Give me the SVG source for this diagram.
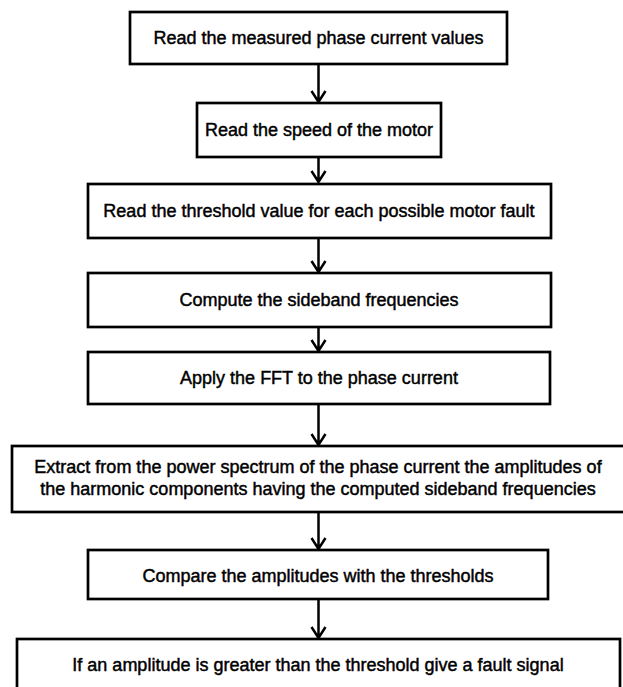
<svg xmlns="http://www.w3.org/2000/svg" width="623" height="687" viewBox="0 0 623 687">
<style>
.box{fill:#fff;stroke:#000;stroke-width:2.7}
.t{font-family:"Liberation Sans",Arial,sans-serif;font-size:18px;fill:#000;stroke:#000;stroke-width:0.45;text-anchor:middle}
.c{stroke:#000;stroke-width:2.5;fill:none}
</style>
<rect width="623" height="687" fill="#fff"/>
<g id="connectors" class="c">
<path d="M318.5 64V102M311.5 91L318.5 102L325.5 91"/>
<path d="M318.5 157V182M311.5 171L318.5 182L325.5 171"/>
<path d="M318.5 238V272M311.5 261L318.5 272L325.5 261"/>
<path d="M318.5 327V351M311.5 340L318.5 351L325.5 340"/>
<path d="M318.5 404V445M311.5 434L318.5 445L325.5 434"/>
<path d="M318.5 512V549M311.5 538L318.5 549L325.5 538"/>
<path d="M318.5 599V638M311.5 627L318.5 638L325.5 627"/>
</g>
<g id="n1"><rect class="box" x="130" y="12" width="377" height="52"/><text class="t" x="318.5" y="44">Read the measured phase current values</text></g>
<g id="n2"><rect class="box" x="197" y="103" width="244" height="54"/><text class="t" x="319" y="136">Read the speed of the motor</text></g>
<g id="n3"><rect class="box" x="88" y="184" width="463" height="54"/><text class="t" x="319" y="217">Read the threshold value for each possible motor fault</text></g>
<g id="n4"><rect class="box" x="88" y="273" width="463" height="54"/><text class="t" x="319" y="306">Compute the sideband frequencies</text></g>
<g id="n5"><rect class="box" x="88" y="352" width="462" height="52"/><text class="t" x="319" y="384">Apply the FFT to the phase current</text></g>
<g id="n6"><rect class="box" x="12" y="446" width="613" height="66"/><text class="t" x="318" y="473">Extract from the power spectrum of the phase current the amplitudes of</text><text class="t" x="318" y="495">the harmonic components having the computed sideband frequencies</text></g>
<g id="n7"><rect class="box" x="88" y="550" width="460" height="49"/><text class="t" x="318" y="582">Compare the amplitudes with the thresholds</text></g>
<g id="n8"><rect class="box" x="17" y="639" width="603" height="60"/><text class="t" x="318" y="671">If an amplitude is greater than the threshold give a fault signal</text></g>
</svg>
